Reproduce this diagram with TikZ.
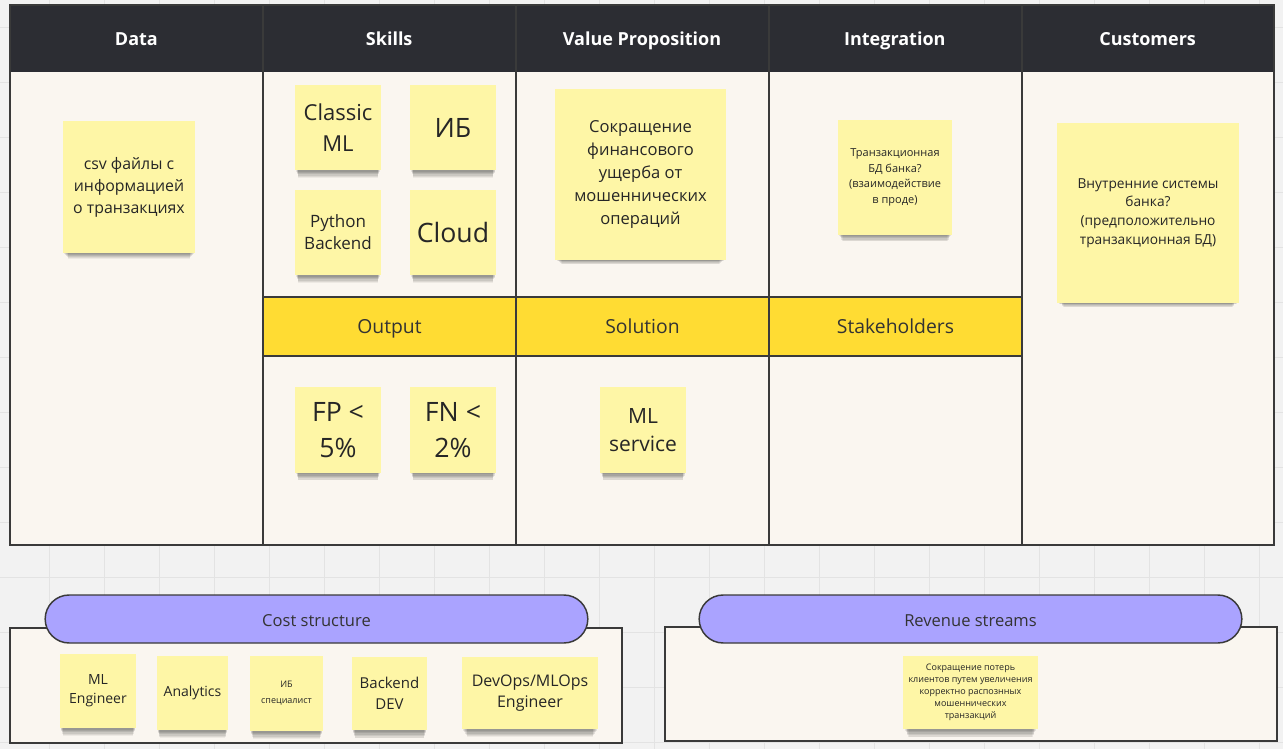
\documentclass[tikz,border=0pt]{standalone}
\usepackage{fontspec}
\setmainfont{Open Sans}
\usepackage{tikz}
\usetikzlibrary{shadows}
\definecolor{gridbg}{HTML}{F2F2F2}
\definecolor{gridln}{HTML}{E3E3E3}
\definecolor{boardbg}{HTML}{FAF6F0}
\definecolor{headbg}{HTML}{2C2D33}
\definecolor{bandbg}{HTML}{FFDC33}
\definecolor{notey}{HTML}{FEF6A6}
\definecolor{pillbg}{HTML}{AAA3FF}
\definecolor{inkc}{HTML}{333333}
\definecolor{linec}{HTML}{3A3A3A}
\newcommand{\nf}[2]{\fontsize{#1}{#2}\selectfont}
\tikzset{
  gridline/.style={gridln, line width=0.75pt},
  boardline/.style={linec, line width=1.1pt},
  headtext/.style={text=white, text height=10pt, text depth=3pt, font=\bfseries\nf{13.5}{16}},
  bandtext/.style={text=inkc, text height=10pt, text depth=3pt, font=\nf{14.5}{17}},
  sticky/.style={fill=notey, text=black!85, align=center, inner sep=0pt,
    general shadow={fill=black, opacity=.05, shadow yshift=-9pt, shadow scale=.92},
    general shadow={fill=black, opacity=.07, shadow yshift=-8pt, shadow scale=.93},
    general shadow={fill=black, opacity=.08, shadow yshift=-6.5pt, shadow scale=.94},
    general shadow={fill=black, opacity=.09, shadow yshift=-5pt, shadow scale=.95},
    general shadow={fill=black, opacity=.09, shadow yshift=-3.5pt, shadow scale=.965},
    general shadow={fill=black, opacity=.08, shadow yshift=-2pt, shadow scale=.98}},
  stickyM/.style={sticky, minimum width=64.5pt, minimum height=64pt},
  pill/.style={fill=pillbg, draw=linec, line width=1.1pt, rounded corners=18pt,
    minimum width=407pt, minimum height=36pt, text=inkc, text height=13pt, text depth=2pt,
    font=\nf{12.4}{14}}
}
\begin{document}
\begin{tikzpicture}[x=0.75pt, y=-0.75pt]
    \useasboundingbox (0,0) rectangle (1283,749);
    \fill[gridbg] (0,0) rectangle (1283,749);
    \foreach \gx in {49,104,...,1283} \draw[gridline] (\gx,0) -- (\gx,749);
    \foreach \gy in {27.5,82.5,...,749} \draw[gridline] (0,\gy) -- (1283,\gy);

    \fill[boardbg] (10,5) rectangle (1274,545);
    \fill[headbg] (10,5) rectangle (1274,72);
    \fill[bandbg] (263,297) rectangle (1022,356);
    \draw[boardline] (10,5) rectangle (1274,545);
    \foreach \lx in {263,516,769,1022} \draw[boardline] (\lx,5) -- (\lx,545);
    \draw[boardline] (263,297) -- (1022,297) (263,356) -- (1022,356);

    \foreach \lbl [count=\i] in {Data, Skills, Value Proposition, Integration, Customers}
        \node[headtext] (head\i) at ({10+252.8*(\i-0.5)},41) {\lbl};
    \node[bandtext] (output) at (389.5,329) {Output};
    \node[bandtext] (solution) at (642.5,329) {Solution};
    \node[bandtext] (stakeholders) at (895.5,329) {Stakeholders};

    \node[sticky, minimum width=99pt, minimum height=99pt, font=\nf{11.9}{16.5}] (csv) at (129,187) {csv файлы с\\информацией\\о транзакциях};
    \node[stickyM, font=\nf{16.5}{23}] (classicml) at (338,127.5) {Classic\\ML};
    \node[stickyM, font=\nf{20}{24}] (ib) at (453,127.5) {ИБ};
    \node[stickyM, font=\nf{12.75}{16.5}] (pyback) at (338,232.5) {Python\\Backend};
    \node[stickyM, font=\nf{20}{24}] (cloud) at (453,232.5) {Cloud};
    \node[sticky, minimum width=128pt, minimum height=128pt, font=\nf{12.4}{17.25}] (valprop) at (640.5,174.5) {Сокращение\\финансового\\ущерба от\\мошеннических\\операций};
    \node[sticky, minimum width=85.5pt, minimum height=86pt, font=\nf{8.25}{11.6}] (bankdb) at (895,177.5) {Транзакционная\\БД банка?\\(взаимодействие\\в проде)};
    \node[sticky, minimum width=136.5pt, minimum height=135pt, font=\nf{10.3}{14}] (inner) at (1148,213) {Внутренние системы\\банка?\\(предположительно\\транзакционная БД)};
    \node[stickyM, font=\nf{20}{27}] (fp) at (338,430) {FP <\\5\%};
    \node[stickyM, font=\nf{20}{27}] (fn) at (453,430) {FN <\\2\%};
    \node[stickyM, font=\nf{15.75}{21}] (mlserv) at (643,430) {ML\\service};

    \draw[boardline, fill=boardbg] (10,628) rectangle (622,743);
    \draw[boardline, fill=boardbg] (665,627) rectangle (1277,741);
    \node[pill] (cost) at (316.5,619) {Cost structure};
    \node[pill] (revenue) at (970.5,619) {Revenue streams};

    \node[sticky, minimum width=57pt, minimum height=55.5pt, font=\nf{10.5}{14.25}] (mleng) at (98,691) {ML\\Engineer};
    \node[sticky, minimum width=53.25pt, minimum height=55.5pt, font=\nf{10.5}{14.25}] (analytics) at (192.5,693) {Analytics};
    \node[sticky, minimum width=54.75pt, minimum height=56pt, font=\nf{6.75}{12}] (ibspec) at (286.5,693.5) {ИБ\\специалист};
    \node[sticky, minimum width=56pt, minimum height=55pt, font=\nf{11.25}{15.75}] (backdev) at (389.5,693.5) {Backend\\DEV};
    \node[sticky, minimum width=102pt, minimum height=54pt, font=\nf{12}{15.75}] (devops) at (530,693) {DevOps/MLOps\\Engineer};
    \node[sticky, minimum width=101pt, minimum height=55pt, font=\nf{6.75}{9}] (loss) at (970.5,692.5) {Сокращение потерь\\клиентов путем увеличения\\корректно распознных\\мошеннических\\транзакций};
\end{tikzpicture}
\end{document}
